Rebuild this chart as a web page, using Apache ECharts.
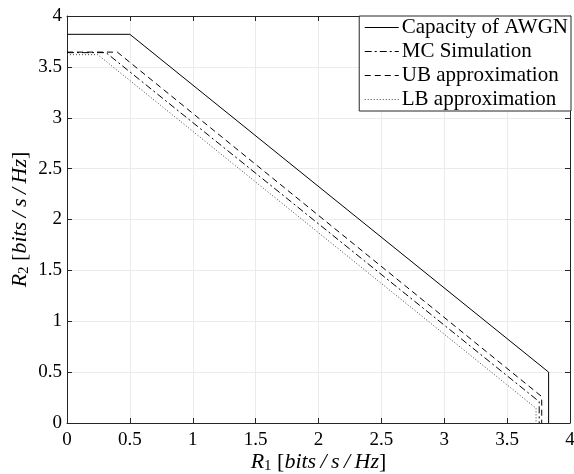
<!DOCTYPE html>
<html>
<head>
<meta charset="utf-8">
<script src="https://cdn.jsdelivr.net/npm/echarts@6/dist/echarts.min.js"></script>
<style>html,body{margin:0;padding:0;background:#fff;}#c{width:574px;height:474px;}</style>
</head>
<body>
<div id="c"></div>
<script>
// Data
const seriesNames = ['Capacity of AWGN', 'MC Simulation', 'UB approximation', 'LB approximation'];
const capX = [0, 0.50, 3.83, 3.83];
const capY = [3.82, 3.82, 0.50, 0];
const mcX = [0, 0.31, 3.755, 3.755];
const mcY = [3.64, 3.64, 0.21, 0];
const ubX = [0, 0.40, 3.775, 3.775];
const ubY = [3.645, 3.645, 0.26, 0];
const lbX = [0, 0.245, 3.73, 3.73];
const lbY = [3.62, 3.62, 0.145, 0];
const xTicks = ['0', '0.5', '1', '1.5', '2', '2.5', '3', '3.5', '4'];
const yTicks = ['0', '0.5', '1', '1.5', '2', '2.5', '3', '3.5', '4'];

function pairs(xs, ys) { return xs.map((x, i) => [x, ys[i]]); }

const FONT = 'Liberation Serif';
const axisColor = '#262626';
const chart = echarts.init(document.getElementById('c'), null, { renderer: 'canvas' });

function mainAxis(pos, ticks, nameRich, nameStr) {
  return {
    type: 'value', position: pos, min: 0, max: 4, interval: 0.5,
    axisLine: { show: true, onZero: false, lineStyle: { color: axisColor, width: 1 } },
    axisTick: { show: true, inside: true, length: 5, lineStyle: { color: axisColor } },
    axisLabel: {
      show: true, fontFamily: FONT, fontSize: 19, color: '#000', margin: pos === 'bottom' ? 8 : 5,
      formatter: v => ticks[Math.round(v / 0.5)]
    },
    splitLine: { show: true, lineStyle: { color: '#ebebeb', width: 1 } },
    name: nameStr, nameLocation: 'middle', nameMoveOverlap: false,
    nameGap: pos === 'bottom' ? 27 : 35,
    nameTextStyle: { fontFamily: FONT, fontSize: 22, color: '#000', rich: nameRich }
  };
}
function boxAxis(pos) {
  return {
    type: 'value', position: pos, min: 0, max: 4, interval: 0.5,
    axisLine: { show: true, onZero: false, lineStyle: { color: axisColor, width: 1 } },
    axisTick: { show: true, inside: true, length: 5, lineStyle: { color: axisColor } },
    axisLabel: { show: false }, splitLine: { show: false }
  };
}
const rich = {
  it: { fontFamily: FONT, fontStyle: 'italic', fontSize: 22, color: '#000' },
  sub: { fontFamily: FONT, fontSize: 15, color: '#000', verticalAlign: 'bottom', padding: [9, 0, 0, 0] },
  n: { fontFamily: FONT, fontSize: 22, color: '#000' }
};
const nameStr = (k) => '{it|R}{sub|' + k + '} {n|[}{it|bits\u2009/\u2009s\u2009/\u2009Hz}{n|]}';

function lineSeries(name, xs, ys, type, color) {
  return {
    name: name, type: 'line', data: pairs(xs, ys), symbol: 'none', silent: true,
    xAxisIndex: 0, yAxisIndex: 0, animation: false,
    itemStyle: { color: color },
    lineStyle: { color: color, width: 1, type: type }
  };
}

chart.setOption({
  animation: false,
  backgroundColor: '#fff',
  grid: { left: 67, right: 4, top: 16, bottom: 51, containLabel: false, outerBoundsMode: 'none' },
  xAxis: [
    mainAxis('bottom', xTicks, rich, nameStr(1)),
    boxAxis('top')
  ],
  yAxis: [
    mainAxis('left', yTicks, rich, nameStr(2)),
    boxAxis('right')
  ],
  legend: {
    show: true,
    orient: 'vertical', right: 3, top: 16,
    data: seriesNames,
    backgroundColor: '#fff', borderColor: axisColor, borderWidth: 1, borderRadius: 0,
    padding: [1, 3, 1, 5], itemGap: 3, itemWidth: 34, itemHeight: 22,
    itemStyle: { opacity: 0 },
    lineStyle: { width: 1 },
    textStyle: { fontFamily: FONT, fontSize: 21, color: '#000', padding: [0, 0, 0, -2] },
    selectedMode: false
  },
  series: [
    lineSeries(seriesNames[0], capX, capY, 'solid', '#000'),
    lineSeries(seriesNames[1], mcX, mcY, [7, 3, 2, 3], '#000'),
    lineSeries(seriesNames[2], ubX, ubY, [6, 4], '#000'),
    lineSeries(seriesNames[3], lbX, lbY, [1, 2], '#444')
  ]
});
</script>
</body>
</html>
